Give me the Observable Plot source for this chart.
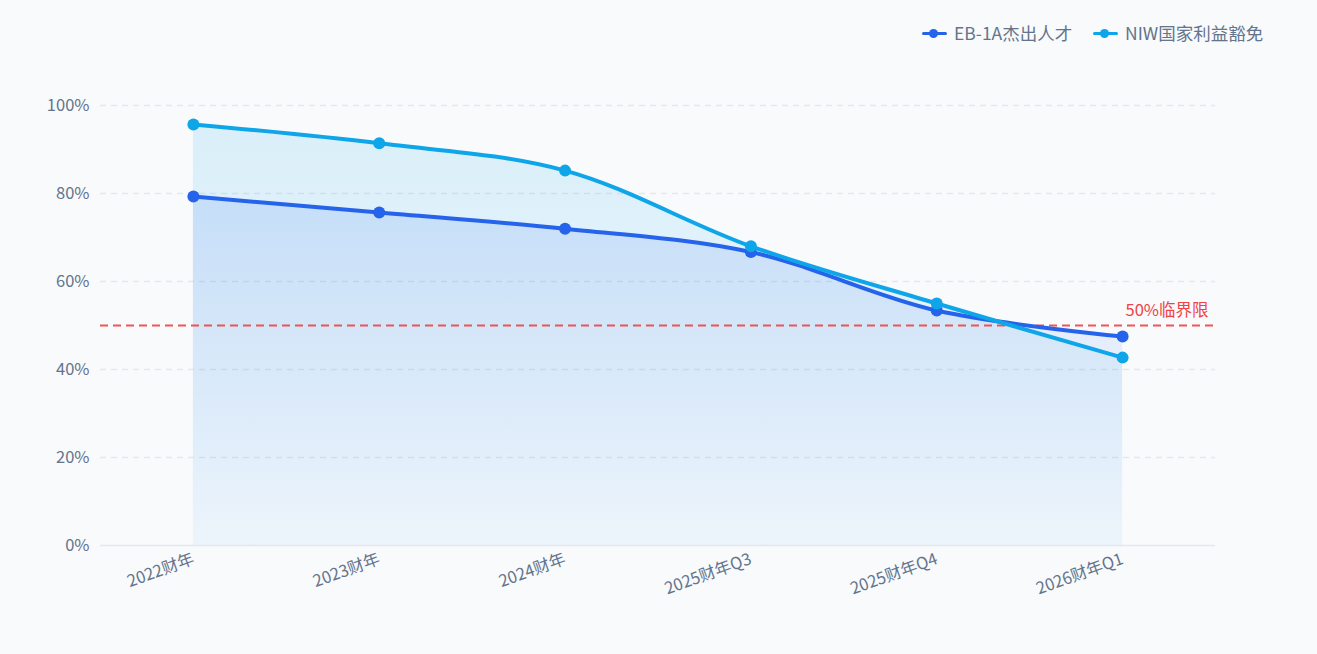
<!DOCTYPE html>
<html><head><meta charset="utf-8">
<script src="https://cdn.jsdelivr.net/npm/d3@7"></script>
<script src="https://cdn.jsdelivr.net/npm/@observablehq/plot@0.6"></script>
<style>
html,body{margin:0;padding:0;background:#f8fafc;font-family:"Noto Sans CJK SC","Noto Sans",sans-serif;}
#legend{height:60px;position:relative;}
.item{position:absolute;top:20px;display:flex;align-items:center;font-size:17.5px;color:#64748b;}
.sw{position:relative;width:25px;height:14px;margin-right:7px;}
.sw .l{position:absolute;left:0;right:0;top:6px;height:3px;border-radius:2px;}
.sw .d{position:absolute;left:7px;top:3px;width:9px;height:9px;border-radius:50%;}
</style></head>
<body>
<div id="legend"></div>
<div id="chart"></div>
<script>
const categories = ["2022财年","2023财年","2024财年","2025财年Q3","2025财年Q4","2026财年Q1"];
const seriesNames = ["EB-1A杰出人才","NIW国家利益豁免"];
const eb1aValues = [79.3, 75.7, 72.0, 66.7, 53.4, 47.5];
const niwValues = [95.7, 91.4, 85.2, 68.0, 55.0, 42.7];
const colors = ["#2563eb","#0ea5e9"];
const yTicks = [0,20,40,60,80,100];
const threshold = 50;
const thresholdLabel = "50%临界限";

const eb1a = categories.map((c,i)=>({cat:c, v:eb1aValues[i], s:seriesNames[0]}));
const niw = categories.map((c,i)=>({cat:c, v:niwValues[i], s:seriesNames[1]}));

// legend
const leg = document.getElementById("legend");
const legX = [922, 1093];
seriesNames.forEach((n,i)=>{
  const it = document.createElement("div");
  it.className="item"; it.style.left=legX[i]+"px";
  it.innerHTML = `<div class="sw"><div class="l" style="background:${colors[i]}"></div><div class="d" style="background:${colors[i]}"></div></div><span>${n}</span>`;
  leg.appendChild(it);
});

const defs = () => {
  const svgNS = "http://www.w3.org/2000/svg";
  const g = document.createElementNS(svgNS,"defs");
  g.innerHTML = `
   <linearGradient id="gNiw" x1="0" y1="0" x2="0" y2="1">
     <stop offset="0" stop-color="#0ea5e9" stop-opacity="0.13"/>
     <stop offset="1" stop-color="#0ea5e9" stop-opacity="0.03"/>
   </linearGradient>
   <linearGradient id="gEb" x1="0" y1="0" x2="0" y2="1">
     <stop offset="0" stop-color="#2563eb" stop-opacity="0.13"/>
     <stop offset="1" stop-color="#2563eb" stop-opacity="0.02"/>
   </linearGradient>`;
  return g;
};

const curve = "catmull-rom";
const chart = Plot.plot({
  width: 1317,
  height: 594,
  marginLeft: 100,
  marginRight: 102,
  marginTop: 45,
  marginBottom: 109,
  style: {background:"transparent", fontFamily:'"Noto Sans CJK SC","Noto Sans",sans-serif', fontSize:"16px", color:"#64748b"},
  x: {type:"point", domain: categories, padding: 0.5, round:false, label:null},
  y: {domain:[0,100], label:null},
  marks: [
    defs,
    Plot.ruleY(yTicks.filter(d=>d>0), {stroke:"#e2e8f0", strokeWidth:1.3, strokeDasharray:"6,5", strokeOpacity:1}),
    Plot.ruleY([0], {stroke:"#e2e8f0", strokeWidth:1.5, strokeOpacity:1}),
    Plot.areaY(niw, {x:"cat", y:"v", curve, fill:"url(#gNiw)", fillOpacity:1}),
    Plot.areaY(eb1a, {x:"cat", y:"v", curve, fill:"url(#gEb)", fillOpacity:1}),
    Plot.ruleY([threshold], {stroke:"#ef4444", strokeWidth:2, strokeDasharray:"8,5", strokeOpacity:0.9}),
    Plot.text([thresholdLabel], {frameAnchor:"right", y:()=>threshold, dx:-7, dy:-15, textAnchor:"end", fill:"#ef4444", fontSize:16.5}),
    Plot.line(eb1a, {x:"cat", y:"v", curve, stroke:colors[0], strokeWidth:4}),
    Plot.dot(eb1a, {x:"cat", y:"v", r:6, fill:colors[0], stroke:null}),
    Plot.line(niw, {x:"cat", y:"v", curve, stroke:colors[1], strokeWidth:4}),
    Plot.dot(niw, {x:"cat", y:"v", r:6, fill:colors[1], stroke:null}),
    Plot.axisY({ticks:yTicks, tickFormat:d=>d+"%", tickSize:0, tickPadding:11, fontSize:16.5, fill:"#64748b", label:null}),
    Plot.axisX({tickSize:0, tickPadding:13, tickRotate:-20, fontSize:16.5, fill:"#64748b", label:null})
  ]
});
document.getElementById("chart").appendChild(chart);
</script>
</body></html>
